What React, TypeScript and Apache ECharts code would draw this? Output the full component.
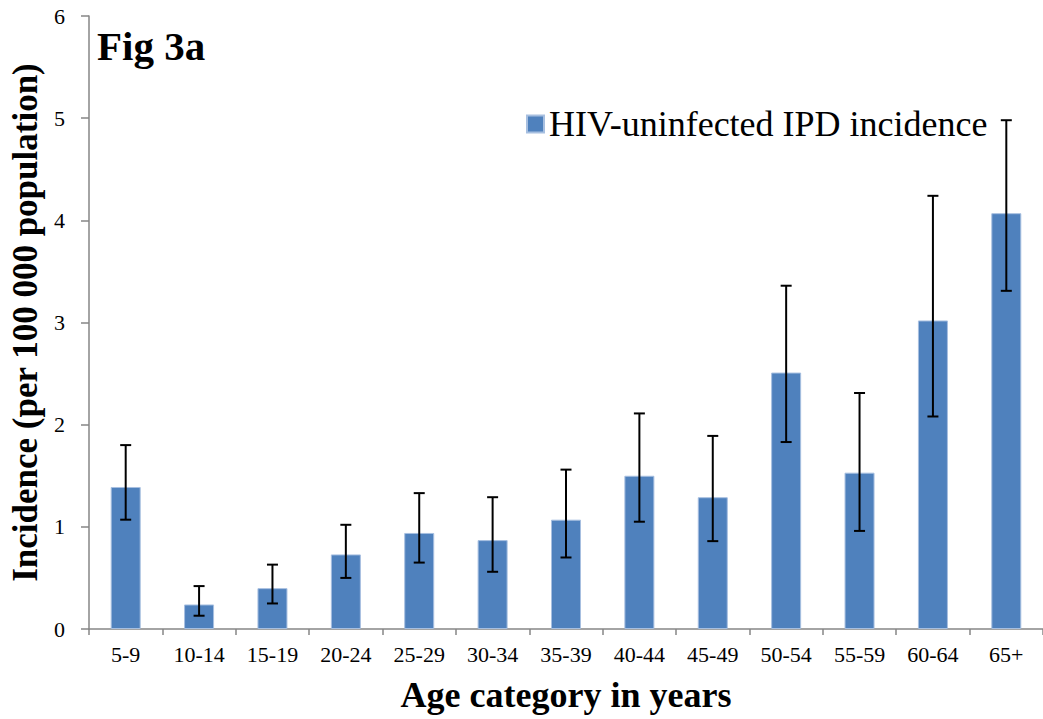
import React, { useEffect, useRef } from "react";
import * as echarts from "echarts";

const categories = ["5-9", "10-14", "15-19", "20-24", "25-29", "30-34", "35-39", "40-44", "45-49", "50-54", "55-59", "60-64", "65+"];
const incidence = [1.39, 0.24, 0.4, 0.73, 0.94, 0.87, 1.07, 1.5, 1.29, 2.51, 1.53, 3.02, 4.07];
const lowerCI = [1.07, 0.13, 0.25, 0.5, 0.65, 0.56, 0.7, 1.05, 0.86, 1.83, 0.96, 2.08, 3.31];
const upperCI = [1.8, 0.42, 0.63, 1.02, 1.33, 1.29, 1.56, 2.11, 1.89, 3.36, 2.31, 4.24, 4.98];
const yTicks = { min: 0, max: 6, interval: 1 };
const seriesName = "HIV-uninfected IPD incidence";

const SERIF = "Liberation Serif";

export default function App() {
  const ref = useRef<HTMLDivElement>(null);

  useEffect(() => {
    if (!ref.current) return;
    const chart = echarts.init(ref.current, undefined, { renderer: "svg" });
    const errData = categories.map((_, i) => [i, lowerCI[i], upperCI[i]]);
    chart.setOption({
      animation: false,
      backgroundColor: "#ffffff",
      textStyle: { fontFamily: SERIF },
      grid: { left: 89, top: 16, width: 961, height: 613, containLabel: false },
      legend: {
        data: [seriesName],
        left: 521,
        top: 101,
        itemWidth: 17,
        itemHeight: 17,
        icon: "rect",
        textStyle: { fontFamily: SERIF, fontSize: 36, color: "#000" },
      },
      graphic: [
        {
          type: "text",
          left: 97,
          top: 25,
          style: { text: "Fig 3a", fontFamily: SERIF, fontSize: 41, fontWeight: "bold", fill: "#000" },
        },
      ],
      xAxis: {
        type: "category",
        data: categories,
        name: "Age category in years",
        nameLocation: "middle",
        nameGap: 48,
        nameTextStyle: { fontFamily: SERIF, fontSize: 36, fontWeight: "bold", color: "#000" },
        axisLine: { show: true, lineStyle: { color: "#868686", width: 1.5 } },
        axisTick: { show: true, length: 6, lineStyle: { color: "#868686", width: 1.5 } },
        axisLabel: { fontFamily: SERIF, fontSize: 22, color: "#000", margin: 14, interval: 0 },
        splitLine: { show: false },
      },
      yAxis: {
        type: "value",
        min: yTicks.min,
        max: yTicks.max,
        interval: yTicks.interval,
        name: "Incidence (per 100 000 population)",
        nameLocation: "middle",
        nameGap: 45,
        nameTextStyle: { fontFamily: SERIF, fontSize: 35, fontWeight: "bold", color: "#000" },
        axisLine: { show: true, lineStyle: { color: "#868686", width: 1.5 } },
        axisTick: { show: true, length: 8, lineStyle: { color: "#868686", width: 1.5 } },
        axisLabel: { fontFamily: SERIF, fontSize: 22, color: "#000", margin: 24 },
        splitLine: { show: false },
      },
      series: [
        {
          name: seriesName,
          type: "bar",
          data: incidence,
          barWidth: 30,
          itemStyle: { color: "#4F81BD", borderColor: "#a7bfe0", borderWidth: 1 },
        },
        {
          name: "CI",
          type: "custom",
          data: errData,
          encode: { x: 0, y: [1, 2] },
          z: 10,
          renderItem: (params: any, api: any) => {
            const idx = api.value(0);
            const pLow = api.coord([idx, api.value(1)]);
            const pHigh = api.coord([idx, api.value(2)]);
            const x = pLow[0];
            const hw = 5.5;
            const style = { stroke: "#000", lineWidth: 2 };
            return {
              type: "group",
              children: [
                { type: "line", shape: { x1: x, y1: pLow[1], x2: x, y2: pHigh[1] }, style },
                { type: "line", shape: { x1: x - hw, y1: pHigh[1], x2: x + hw, y2: pHigh[1] }, style },
                { type: "line", shape: { x1: x - hw, y1: pLow[1], x2: x + hw, y2: pLow[1] }, style },
              ],
            };
          },
        },
      ],
    });
    return () => chart.dispose();
  }, []);

  return (
    <div
      ref={ref}
      style={{ position: "fixed", left: 0, top: 0, width: 1043, height: 719, background: "#fff" }}
    />
  );
}
